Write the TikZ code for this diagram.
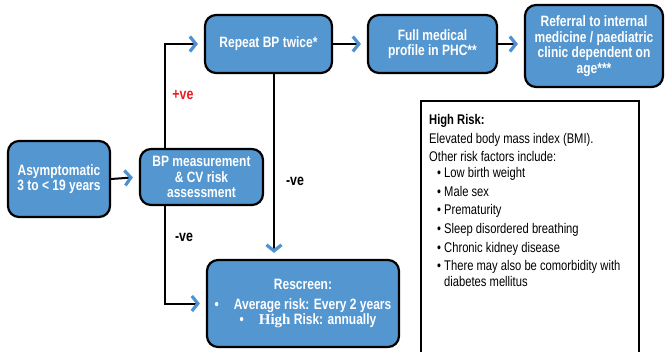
\documentclass[tikz,border=0pt]{standalone}
\usepackage{fontspec}
\setmainfont{Liberation Sans}[FakeStretch=0.8]
\newfontfamily\serifb{Liberation Serif}
\usetikzlibrary{arrows.meta,calc}
\definecolor{boxblue}{RGB}{84,150,208}
\definecolor{chev}{RGB}{78,146,210}
\definecolor{vered}{RGB}{237,28,36}
\tikzset{
  flowbox/.style={draw=black, line width=2.2pt, fill=boxblue, rounded corners=11pt,
    text=white, font=\bfseries\fontsize{15}{15.5}\selectfont, align=center, inner sep=0pt},
  conn/.style={draw=black, line width=2pt,
    -{Straight Barb[color=chev, length=6pt, width=15pt, line width=3.2pt]}, shorten >=6pt},
  lbl/.style={font=\bfseries\fontsize{15.5}{15}\selectfont, inner sep=0pt},
  infobox/.style={draw=black, line width=1.6pt, fill=white}
}
\begin{document}
\begin{tikzpicture}[x=1pt,y=-1pt]
\useasboundingbox (0,0) rectangle (667,351);
\fill[white] (0,0) rectangle (667,351);

\node[flowbox, minimum width=102pt, minimum height=76pt] (asym) at (59,179) {Asymptomatic\\3 to < 19 years};
\node[flowbox, minimum width=123pt, minimum height=56pt] (bp) at (201.5,177) {BP measurement\\\& CV risk\\assessment};
\node[flowbox, minimum width=127pt, minimum height=58pt] (rep) at (268.5,44) {Repeat BP twice*};
\node[flowbox, minimum width=129pt, minimum height=58pt] (full) at (432.5,44) {Full medical\\profile in PHC**};
\node[flowbox, minimum width=138pt, minimum height=82pt] (ref) at (594,46) {Referral to internal\\medicine / paediatric\\clinic dependent on\\age***};
\node[flowbox, minimum width=192pt, minimum height=87pt] (resc) at (303,303.5)
  {Rescreen:\\[4pt]\textbullet\quad Average risk: Every 2 years\\
   \hspace*{10pt}\textbullet\quad{\serifb\bfseries High} Risk: annually};

\node[infobox, minimum width=218pt, minimum height=256pt, anchor=north west] (hr) at (420,100) {};
\node[anchor=north west, align=left, inner sep=0pt, font=\fontsize{14}{18.7}\selectfont] (hrtext) at (429,114)
 {\textbf{High Risk:}\\
  Elevated body mass index (BMI).\\
  Other risk factors include:\\[-3pt]
  \hspace*{8pt}\textbullet\ Low birth weight\\
  \hspace*{8pt}\textbullet\ Male sex\\
  \hspace*{8pt}\textbullet\ Prematurity\\
  \hspace*{8pt}\textbullet\ Sleep disordered breathing\\
  \hspace*{8pt}\textbullet\ Chronic kidney disease\\
  \hspace*{8pt}\textbullet\ There may also be comorbidity with\\[-3pt]
  \hspace*{8pt}\phantom{\textbullet\ }diabetes mellitus};

\coordinate (bpx) at (165,0);
\coordinate (repx) at (274,0);

\draw[conn] (asym.east) -- (bp.west);
\draw[conn] (bp.north -| bpx) |- (rep.west);
\draw[conn] (bp.south -| bpx) |- (resc.west);
\draw[conn] (rep.south -| repx) -- (resc.north -| repx);
\draw[conn] (rep.east) -- (full.west);
\draw[conn] (full.east) -- (full.east -| ref.west);

\node[lbl, text=vered] (pos) at (183,95) {+ve};
\node[lbl] (neg1) at (184,237) {-ve};
\node[lbl] (neg2) at (295,181) {-ve};
\end{tikzpicture}
\end{document}
